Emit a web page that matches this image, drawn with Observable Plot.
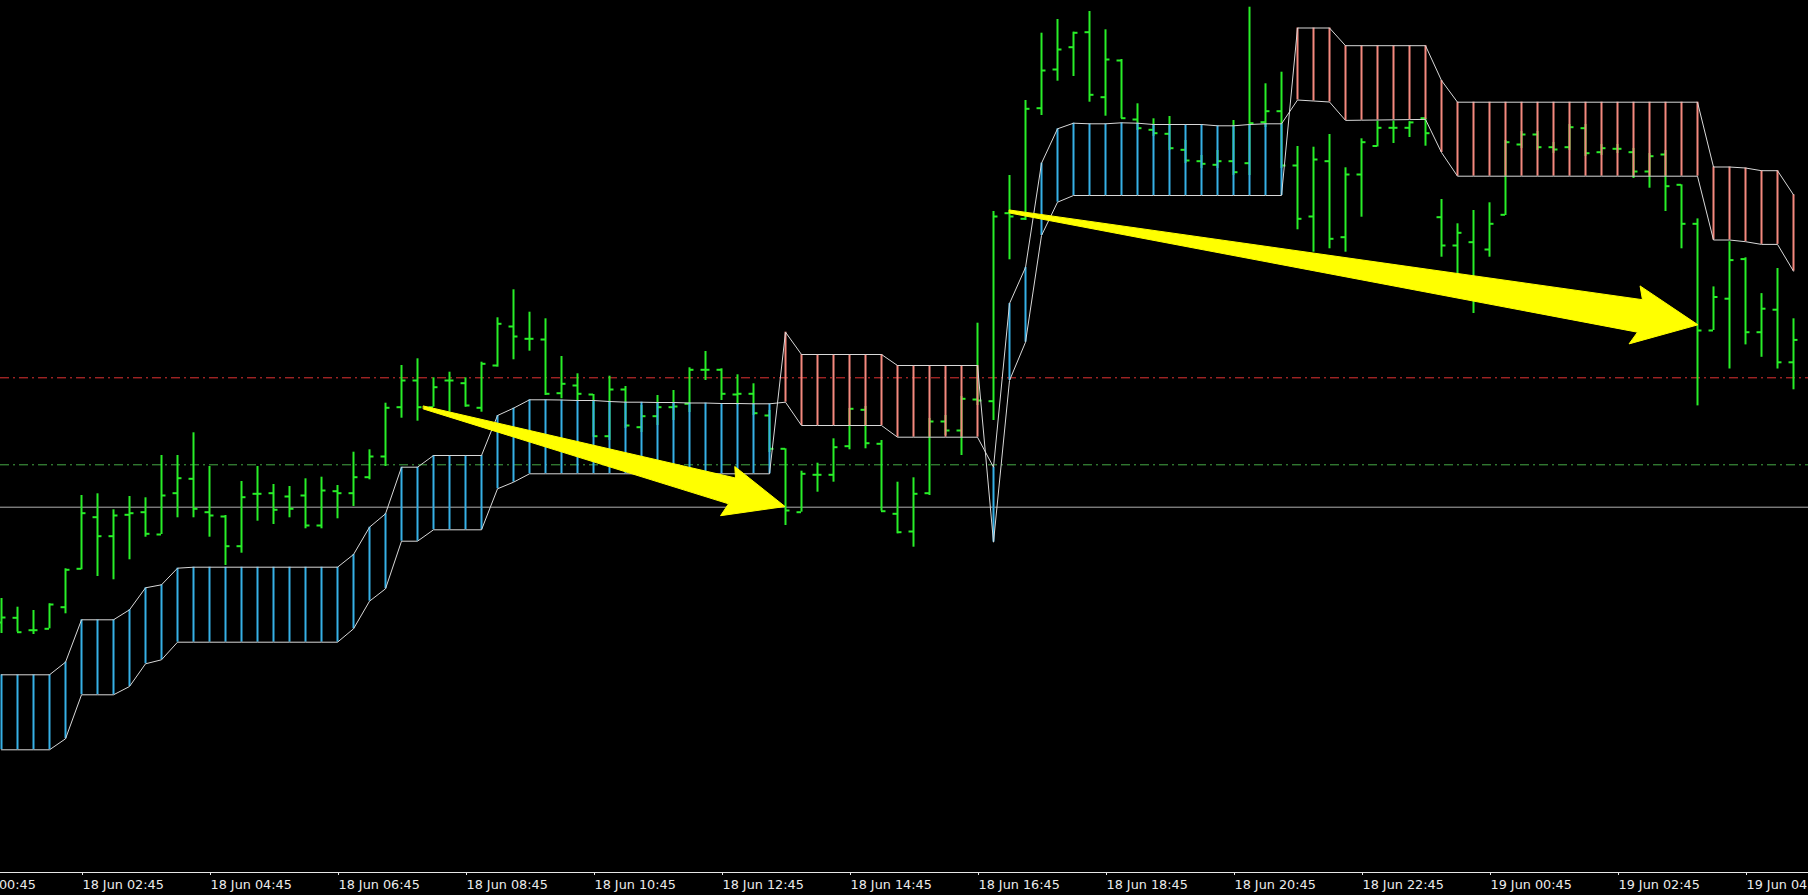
<!DOCTYPE html>
<html><head><meta charset="utf-8">
<script src="https://cdn.jsdelivr.net/npm/d3@7"></script>
<script src="https://cdn.jsdelivr.net/npm/@observablehq/plot@0.6"></script>
<style>html,body{margin:0;padding:0;background:#000;overflow:hidden}#chart svg{display:block}</style>
</head><body><div id="chart"></div>
<script>
// M15 bars, prices in points (arbitrary base)
const open = [250,254.7,242.3,243.7,265.3,303.7,355.3,336.3,357.7,360.3,
 338,379.3,393.7,360.3,356,326.3,378.7,379.3,376,377,
 347,381.3,379.3,395.3,416,465.3,492,465.3,492,489.3,
 464.7,507,546,533.7,533,479.3,487,478,436.3,483,
 445.3,456.3,465.3,468.7,502.7,502.7,478,478.7,457,423.7,
 360.3,397.7,397.7,426.3,462.7,428.7,358.7,341,379.3,451,
 442,473,471.3,659.3,653.7,764.3,803,825.3,840.3,775.3,
 812,753,742.7,738.7,722.7,711.3,707.7,711.3,709.3,750.3,
 761.3,707,656,711.3,635.3,698,726.5,744.7,744.7,754.3,
 655.3,627,630.3,623,657.7,728,738,725.3,725.3,744.3,
 720.3,723.7,720.3,701,718,687.7,648.7,542,573.8,613.4,
 540.3,562.8,510.2];
const high = [274,265.3,262,268.7,303.7,377,378.7,362.7,376,374.7,
 417,417,439.7,406,357,391,406,388,386,393.7,
 395.3,387,420.3,422.7,469.3,507,513.7,494.7,500.3,494.7,
 510.3,554.7,582.7,560.3,553.7,516,498.7,478,496.3,486,
 467,477,482,504.7,521,503.7,497.7,488.7,462,423.7,
 401.3,409.3,433.7,464,466,432,390.3,394.7,454,457,
 476,549.3,661,697,772,839.3,853,840.3,861,842.7,
 813,768.7,753.7,756,732,717,722,752,865.3,788.7,
 800.3,726,725.3,738,704.7,733.7,751.5,751.5,750.8,754.3,
 673,648.7,662,669.7,732,741,741,730,748,748,
 728,728,724,719,722,687.7,653.6,585.6,630.8,614.7,
 578.9,604,553.7];
const low = [239,240.3,238,243.7,258.7,302.7,296,292.7,312.7,335.3,
 338,354.7,354.7,335.3,307,319.3,351.3,348,354.7,343.7,
 343.7,353.7,366,392.7,406,454.3,451.3,465.3,460.3,465.3,
 460.3,505.3,512.7,521.3,477,473.7,472,435.3,432,444,
 440,447,452,460,492,472,467,457,420,347,
 360.3,380.3,390.3,422.7,423.7,361.3,338.7,325.3,377,437,
 417,467,452,612.7,652,757,791.3,796,770.3,756.3,
 753.7,742,736,722,709,704,704,697,697,745,
 704,642.7,620.3,623.7,620.3,655.3,725.5,729,735,726.3,
 615.3,598,559,615.3,657,724,722,719,722,716,
 717,719,694,684.3,661,623.7,466.6,542,503.5,527.6,
 515.2,503.5,482.7];
const close = [255,240.3,242.3,268,302.7,359.3,336.3,357,359.3,338.7,
 377,394.3,363.7,357,326.3,375.3,378.7,362.7,363.7,347,
 382,379.3,395.3,416,464.7,492,465.3,485.3,492,467,
 508.7,548.7,536,533.7,478.7,488.7,478.7,436.3,483,447,
 456.3,465.3,466,502.7,502.7,478.7,478.7,459.3,423.7,362,
 398.7,397.7,425.3,463.7,429.3,361.3,340.3,378.7,451,442,
 473.7,472,656,656,763.7,802,823,839.7,777.7,813,
 754.3,744.3,739.3,724.3,712,708.7,711.3,700.3,749.3,761.3,
 707,653.7,713,633.7,698,730.3,744.7,744.7,750.1,739.3,
 627,639.7,594.2,648.7,730.3,738,725.3,723,745.3,719.3,
 724.3,723.7,701,716.3,686.3,648.7,542,575.5,612.4,540.3,
 563.8,510.2,532.6];
// Ichimoku Senkou spans (already shifted)
const spanA = [197.7,197.7,197.7,197.7,210.3,252.7,252.7,252.7,262.7,284.7,
 287.7,304.3,305.3,305.3,305.3,305.3,305.3,305.3,305.3,305.3,
 305.3,305.3,318,345.3,358.7,405.3,405.3,417,417,417,
 417,457,464.3,472.7,472.7,472.5,472,472,471,470.3,
 470.3,470,470,469.5,469.5,469,469,468.7,468.7,470.3,
 447,447,447,447,447,447,435.3,435.3,435.3,435.3,
 435.3,435.3,405.3,569,605,709.3,743.7,749.3,748.7,748.7,
 749.7,749.3,748,748,748,748,746.7,746.7,748,748.7,
 748.7,772.5,771.5,770.5,752.1,752.3,752.5,752.7,752.9,753.1,
 720,696.3,696.3,696.3,696.3,696.3,696.3,696.3,696.3,696.3,
 696.3,696.3,696.3,696.3,696.3,696.3,696.3,632.5,632.5,630.8,
 628.1,628.1,601.3];
const spanB = [122.7,122.7,122.7,122.7,133.7,177.7,177.7,177.7,186,208.7,
 212.7,230.3,230.3,230.3,230.3,230.3,230.3,230.3,230.3,230.3,
 230.3,230.3,243.7,271.3,283.7,331.3,331.3,342.7,342.7,342.7,
 342.7,383.7,390.3,398.7,398.7,398.7,398.7,398.7,398.7,398.7,
 398.7,398.7,398.7,398.7,398.7,398.7,398.7,398.7,398.7,540.3,
 518,518,518,518,518,518,507,507,507,507,
 507,507,330.3,492,530.3,637,670.3,677,677,677,
 677,677,677,677,677,677,677,677,677,677,
 677,844.5,844.5,844.5,826.8,826.8,826.8,826.8,826.8,826.8,
 792,770.3,770.3,770.3,770.3,770.3,770.3,770.3,770.3,770.3,
 770.3,770.3,770.3,770.3,770.3,770.3,770.3,705.5,705.5,704.5,
 701.8,701.8,677.7];
// horizontal levels
const levelRed = 494.7, levelGreen = 407.7, levelGray = 365.3;
// time axis
const tickBars = [-3,5,13,21,29,37,45,53,61,69,77,85,93,101,109];
const tickLabels = ["18 Jun 00:45","18 Jun 02:45","18 Jun 04:45","18 Jun 06:45","18 Jun 08:45","18 Jun 10:45","18 Jun 12:45","18 Jun 14:45","18 Jun 16:45","18 Jun 18:45","18 Jun 20:45","18 Jun 22:45","19 Jun 00:45","19 Jun 02:45","19 Jun 04:45"];
// arrow annotations (bar index, price)
const arrow1Bar = [26.375,45.875,45.83,48.97,44.94,45.44,26.375];
const arrow1Val = [466.5,394.5,406,366,356.8,368.7,463.5];
const arrow2Bar = [63,102.56,102.41,106.03,101.72,102.25,63];
const arrow2Val = [662.5,572.8,586.6,547.7,528.6,540.3,659.5];

const bars = open.map((o, i) => ({i, o, h: high[i], l: low[i], c: close[i]}));
const cloud = spanA.map((a, i) => ({i, a, b: spanB[i]}));
const bull = cloud.filter(d => d.a >= d.b), bear = cloud.filter(d => d.a < d.b);
const arrow1 = arrow1Bar.map((x, k) => ({x, y: arrow1Val[k]}));
const arrow2 = arrow2Bar.map((x, k) => ({x, y: arrow2Val[k]}));
const labelOf = new Map(tickBars.map((b, k) => [b, tickLabels[k]]));

const GREEN = "#28ee28", BLUE = "#36b0e6", SALMON = "#f4897e", EDGE = "#d8d8d8";
const tw = 0.28;

const chart = Plot.plot({
  width: 1808, height: 895,
  marginTop: 0, marginBottom: 23, marginLeft: 0, marginRight: 0,
  style: {background: "#000", color: "#ececec", fontFamily: "'DejaVu Sans', sans-serif", fontSize: "12.8px"},
  x: {domain: [-0.0625, 112.9375]},
  y: {domain: [0, 872], axis: null},
  marks: [
    Plot.ruleY([levelGray], {stroke: "#b0b0b0", strokeWidth: 1}),
    Plot.ruleY([levelGreen], {stroke: "#45a845", strokeWidth: 1, strokeDasharray: "9,4,2,4"}),
    Plot.ruleY([levelRed], {stroke: "#e03232", strokeWidth: 1, strokeDasharray: "9,4,2,4"}),
    Plot.ruleX(bars, {x: "i", y1: "l", y2: "h", stroke: GREEN, strokeWidth: 2}),
    Plot.ruleY(bars, {y: "o", x1: d => d.i - tw, x2: "i", stroke: GREEN, strokeWidth: 2}),
    Plot.ruleY(bars, {y: "c", x1: "i", x2: d => d.i + tw, stroke: GREEN, strokeWidth: 2}),
    Plot.ruleX(bull, {x: "i", y1: "a", y2: "b", stroke: BLUE, strokeWidth: 2}),
    Plot.ruleX(bear, {x: "i", y1: "a", y2: "b", stroke: SALMON, strokeWidth: 2}),
    Plot.line(cloud, {x: "i", y: "a", stroke: EDGE, strokeWidth: 1}),
    Plot.line(cloud, {x: "i", y: "b", stroke: EDGE, strokeWidth: 1}),
    Plot.line(arrow1, {x: "x", y: "y", fill: "#ffff00", stroke: "#ffff00", strokeWidth: 1, curve: "linear-closed"}),
    Plot.line(arrow2, {x: "x", y: "y", fill: "#ffff00", stroke: "#ffff00", strokeWidth: 1, curve: "linear-closed"}),
    Plot.ruleY([0], {stroke: "#e6e6e6", strokeWidth: 1}),
    Plot.axisX(tickBars, {tickFormat: d => labelOf.get(d), tickSize: 3, tickPadding: 4, textAnchor: "start", dx: 1, stroke: "#e6e6e6", fill: "#ececec"})
  ]
});
document.getElementById("chart").appendChild(chart);
</script></body></html>
